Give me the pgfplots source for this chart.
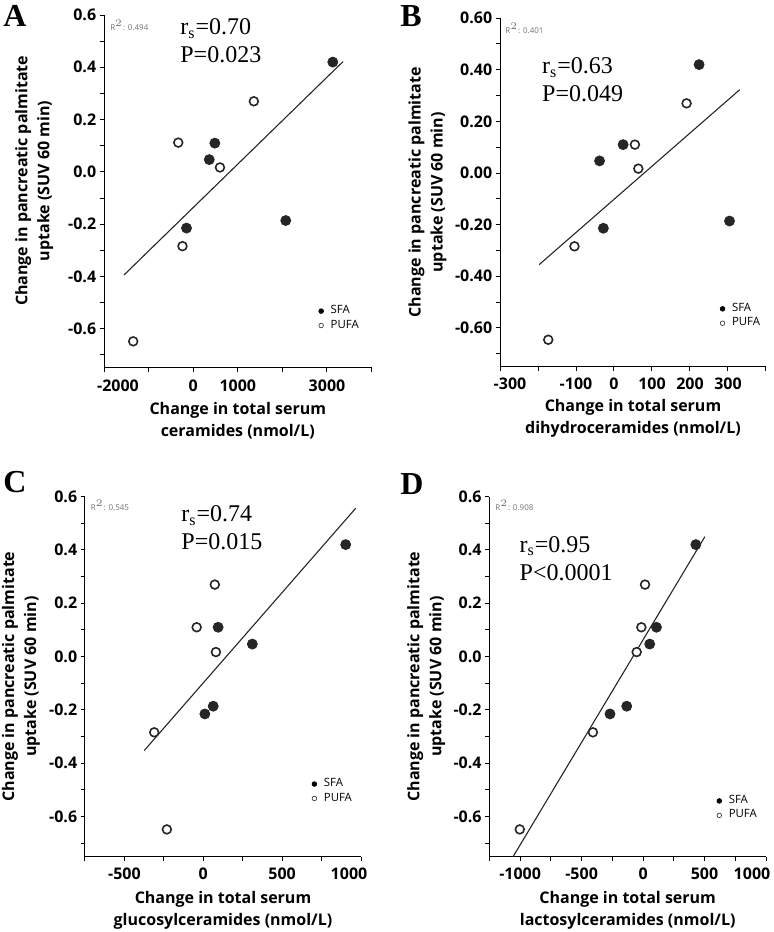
\documentclass[border=0pt]{standalone}
\usepackage{pgfplots}
\pgfplotsset{compat=1.18}
\usepackage{fontspec}
\setmainfont{Liberation Serif}
\newfontfamily\segoe{Open Sans}
\newcommand\tf{\segoe\bfseries\fontsize{8}{11}\selectfont}
\newcommand\lf{\segoe\fontsize{5.7}{6.5}\selectfont}
\newcommand\rf{\fontsize{12}{14}\selectfont}
\newcommand\pf{\bfseries\fontsize{16}{16}\selectfont}
\newcommand\Rf{\segoe\fontsize{4}{4}\selectfont\color{black!55}}

\pgfplotsset{
 panel/.style={
  scale only axis, clip=false,
  axis x line*=bottom, axis y line*=left,
  axis line style={-, line width=0.5pt, black},
  tick align=outside, major tick length=2.2pt, minor tick length=2.2pt,
  every tick/.style={black, line width=0.5pt},
  tick label style={font=\tf},
  yticklabel style={xshift=1.8pt},
  label style={font=\tf, align=center},
  ymin=-0.75, ymax=0.6,
  ytick={-0.6,-0.4,-0.2,0,0.2,0.4,0.6},
  minor ytick={-0.7,-0.5,-0.3,-0.1,0.1,0.3,0.5},
  yticklabels={-0.6,-0.4,-0.2,0.0,0.2,0.4,0.6},
  legend style={draw=none, fill=none, font=\lf, anchor=north west,
     row sep=-0.8pt, column sep=2.2pt, inner sep=0pt, nodes={inner sep=1.2pt}},
  legend cell align=left,
 },
 sfa/.style={only marks, mark=*, mark size=2.5pt, mark options={fill=black!85, draw=black!85}},
 pufa/.style={only marks, mark=*, mark size=2.2pt, mark options={fill=white, draw=black!85, line width=0.8pt}},
 fit/.style={no marks, black!85, line width=0.55pt},
 legsfa/.style={legend image code/.code={\fill[black] (0pt,0pt) circle (1.15pt);}},
 legpufa/.style={legend image code/.code={\draw[black!75, line width=0.35pt] (0pt,0pt) circle (1.15pt);}},
}

\begin{document}
\begin{tikzpicture}
\useasboundingbox (0,0) rectangle (387pt,466pt);

% ---------------- A ----------------
\begin{axis}[panel, at={(52pt,282pt)}, anchor=south west,
  width=133.8pt, height=176.5pt,
  xmin=-2000, xmax=4000,
  xtick={0,1000,3000}, xticklabels={0,1000,3000},
  minor xtick={-1000,2000,4000},
  extra x ticks={-2000}, extra x tick labels={-2000},
  extra x tick style={xticklabel style={xshift=7pt}},
  xlabel={Change in total serum\\ceramides (nmol/L)},
  xlabel style={at={(axis description cs:0.5,-0.096)}, anchor=north, inner sep=0pt},
  ylabel={Change in pancreatic palmitate\\uptake (SUV 60 min)},
  ylabel style={at={(axis description cs:-0.333,0.53)}, anchor=north, inner sep=0pt},
  legend style={at={(axis description cs:0.80,0.185)}},
]
\addplot[fit, forget plot] coordinates {(-1550,-0.394) (3360,0.422)};
\addplot[sfa, forget plot] coordinates {(3130,0.42) (485,0.11) (360,0.047) (-150,-0.215) (2075,-0.186)};
\addplot[pufa, forget plot] coordinates {(1360,0.27) (-335,0.112) (600,0.017) (-240,-0.284) (-1345,-0.648)};
\addlegendimage{legsfa}\addlegendentry{SFA}
\addlegendimage{legpufa}\addlegendentry{PUFA}
\node[anchor=west, inner sep=0pt, font=\Rf] at (rel axis cs:0.022,0.972) {R$^{2}$: 0.494};
\node[anchor=north west, inner sep=0pt, align=left, font=\rf] at (rel axis cs:0.284,0.99) {r\textsubscript{s}=0.70\\P=0.023};
\end{axis}

% ---------------- B ----------------
\begin{axis}[panel, at={(250pt,282.7pt)}, anchor=south west,
  width=133pt, height=174.2pt,
  xmin=-300, xmax=400,
  xtick={-100,0,100,200,300}, xticklabels={-100,0,100,200,300},
  minor xtick={-200,400},
  extra x ticks={-300}, extra x tick labels={-300},
  extra x tick style={xticklabel style={xshift=5pt}},
  yticklabels={-0.60,-0.40,-0.20,0.00,0.20,0.40,0.60},
  xlabel={Change in total serum\\dihydroceramides (nmol/L)},
  xlabel style={at={(axis description cs:0.5,-0.094)}, anchor=north, inner sep=0pt},
  ylabel={Change in pancreatic palmitate\\uptake (SUV 60 min)},
  ylabel style={at={(axis description cs:-0.346,0.5)}, anchor=north, inner sep=0pt},
  legend style={at={(axis description cs:0.825,0.19)}},
]
\addplot[fit, forget plot] coordinates {(-197,-0.355) (331,0.323)};
\addplot[sfa, forget plot] coordinates {(224,0.42) (24,0.11) (-38,0.047) (-28,-0.214) (304,-0.186)};
\addplot[pufa, forget plot] coordinates {(191,0.27) (55,0.11) (64,0.017) (-104,-0.284) (-173,-0.646)};
\addlegendimage{legsfa}\addlegendentry{SFA}
\addlegendimage{legpufa}\addlegendentry{PUFA}
\node[anchor=west, inner sep=0pt, font=\Rf] at (rel axis cs:0.019,0.972) {R$^{2}$: 0.401};
\node[anchor=north west, inner sep=0pt, align=left, font=\rf] at (rel axis cs:0.157,0.888) {r\textsubscript{s}=0.63\\P=0.049};
\end{axis}

% ---------------- C ----------------
\begin{axis}[panel, at={(42.5pt,37.7pt)}, anchor=south west,
  width=138pt, height=180pt,
  xmin=-750, xmax=1000,
  xtick={-500,0,500}, xticklabels={-500,0,500},
  minor xtick={-750,-250,250,750},
  extra x ticks={1000}, extra x tick labels={1000},
  extra x tick style={xticklabel style={xshift=-6pt}},
  xlabel={Change in total serum\\glucosylceramides (nmol/L)},
  xlabel style={at={(axis description cs:0.5,-0.095)}, anchor=north, inner sep=0pt},
  ylabel={Change in pancreatic palmitate\\uptake (SUV 60 min)},
  ylabel style={at={(axis description cs:-0.302,0.5)}, anchor=north, inner sep=0pt},
  legend style={at={(axis description cs:0.82,0.225)}},
]
\addplot[fit, forget plot] coordinates {(-374,-0.352) (966,0.556)};
\addplot[sfa, forget plot] coordinates {(903,0.42) (94,0.11) (311,0.047) (10,-0.215) (63,-0.186)};
\addplot[pufa, forget plot] coordinates {(73,0.27) (-42,0.11) (80,0.017) (-311,-0.284) (-231,-0.648)};
\addlegendimage{legsfa}\addlegendentry{SFA}
\addlegendimage{legpufa}\addlegendentry{PUFA}
\node[anchor=west, inner sep=0pt, font=\Rf] at (rel axis cs:0.02,0.975) {R$^{2}$: 0.545};
\node[anchor=north west, inner sep=0pt, align=left, font=\rf] at (rel axis cs:0.348,0.975) {r\textsubscript{s}=0.74\\P=0.015};
\end{axis}

% ---------------- D ----------------
\begin{axis}[panel, at={(244.7pt,37.7pt)}, anchor=south west,
  width=138.3pt, height=180pt,
  xmin=-1250, xmax=1000,
  xtick={-1000,-500,0,500}, xticklabels={-1000,-500,0,500},
  minor xtick={-1250,-750,-250,250,750},
  extra x ticks={1000}, extra x tick labels={1000},
  extra x tick style={xticklabel style={xshift=-7pt}},
  xlabel={Change in total serum\\lactosylceramides (nmol/L)},
  xlabel style={at={(axis description cs:0.5,-0.095)}, anchor=north, inner sep=0pt},
  ylabel={Change in pancreatic palmitate\\uptake (SUV 60 min)},
  ylabel style={at={(axis description cs:-0.2986,0.5)}, anchor=north, inner sep=0pt},
  legend style={at={(axis description cs:0.82,0.178)}},
]
\addplot[fit, forget plot] coordinates {(-1057,-0.75) (503,0.45)};
\addplot[sfa, forget plot] coordinates {(429,0.42) (109,0.11) (54,0.047) (-269,-0.215) (-133,-0.186)};
\addplot[pufa, forget plot] coordinates {(16,0.27) (-14,0.11) (-52,0.017) (-408,-0.284) (-1003,-0.648)};
\addlegendimage{legsfa}\addlegendentry{SFA}
\addlegendimage{legpufa}\addlegendentry{PUFA}
\node[anchor=west, inner sep=0pt, font=\Rf] at (rel axis cs:0.02,0.975) {R$^{2}$: 0.908};
\node[anchor=north west, inner sep=0pt, align=left, font=\rf] at (rel axis cs:0.108,0.891) {r\textsubscript{s}=0.95\\P<0.0001};
\end{axis}

% panel letters
\node[anchor=base west, inner sep=0pt, font=\pf] at (1.5pt,452.5pt) {A};
\node[anchor=base west, inner sep=0pt, font=\pf] at (200pt,452.5pt) {B};
\node[anchor=base west, inner sep=0pt, font=\pf] at (1.5pt,219.5pt) {C};
\node[anchor=base west, inner sep=0pt, font=\pf] at (200pt,218.5pt) {D};
\end{tikzpicture}
\end{document}
